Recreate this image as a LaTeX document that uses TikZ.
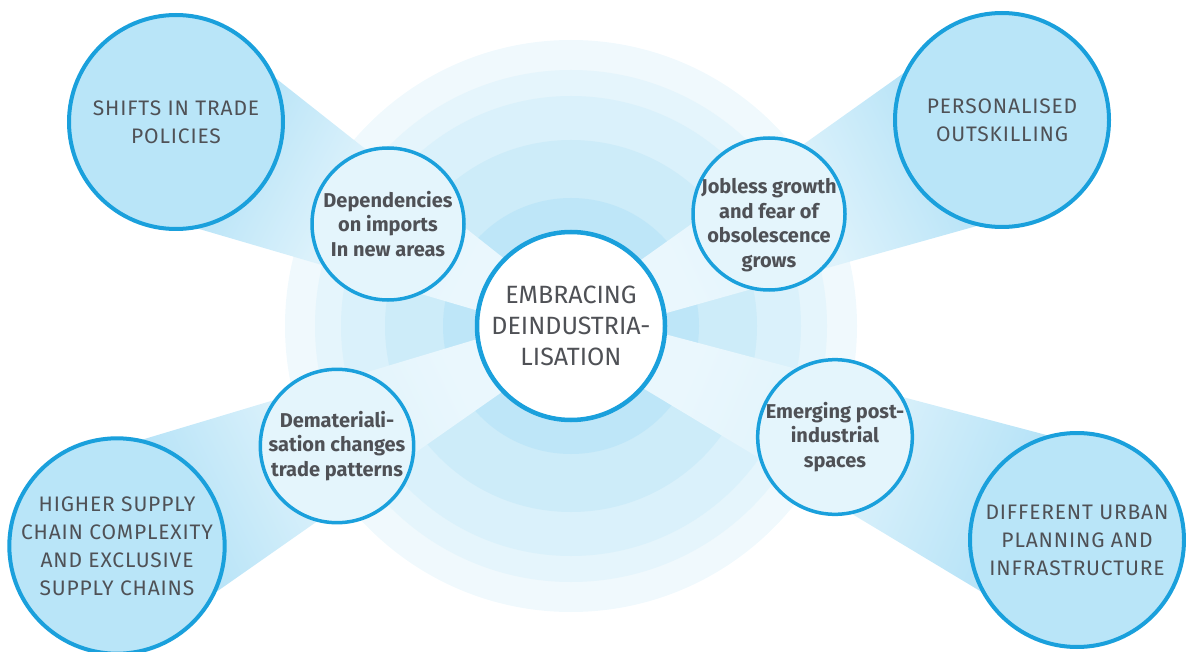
\documentclass[tikz,border=0pt]{standalone}
\usepackage{fontspec}
\setmainfont{Fira Sans}
\usetikzlibrary{calc,backgrounds}

\definecolor{rim}{HTML}{1AA0DC}
\definecolor{outerfill}{HTML}{B9E5F8}
\definecolor{midfill}{HTML}{E4F5FC}
\definecolor{ink}{HTML}{4F5156}
\definecolor{ringA}{HTML}{F0F9FD}
\definecolor{ringB}{HTML}{E5F5FC}
\definecolor{ringC}{HTML}{DAF1FB}
\definecolor{ringD}{HTML}{CDECF9}
\definecolor{ringE}{HTML}{BEE6F8}
\definecolor{beamdark}{HTML}{B4E2F7}
\definecolor{beammid}{HTML}{DDF2FB}
\definecolor{beamlight}{HTML}{EAF7FD}

\tikzset{
  hub/.style={circle, draw=rim, line width=4.5pt, fill=white, minimum size=188pt,
    inner sep=0pt, align=center, text=ink, font=\fontsize{25}{31}\selectfont},
  effect/.style={circle, draw=rim, line width=3.5pt, fill=midfill, minimum size=152pt,
    inner sep=0pt, align=center, text=ink, font=\fontsize{20}{24.5}\selectfont\bfseries},
  effecttext/.style={align=center, text=ink, inner sep=0pt,
    font=\fontsize{20}{24.5}\selectfont\bfseries},
  outcome/.style={circle, draw=rim, line width=4pt, fill=outerfill, minimum size=214pt,
    inner sep=0pt, align=center, text=ink,
    font=\fontsize{21}{28}\selectfont\addfontfeatures{LetterSpace=4}},
  beam/.style={top color=beamdark, bottom color=beamlight, middle color=beammid,
    shading angle=#1},
}

% wedge from an outer circle towards the hub
\newcommand{\drawbeam}[2]{%
  \shade[beam=#2]
    ($(#1.center)!107pt!53:(hub.center)$) --
    ($(hub.center)!94pt!-18:(#1.center)$) --
    ($(hub.center)!94pt!18:(#1.center)$) --
    ($(#1.center)!107pt!-53:(hub.center)$) -- cycle;}

\begin{document}
\begin{tikzpicture}[x=1pt,y=-1pt]
\useasboundingbox (0,0) rectangle (1186,652);

% hub
\node[hub] (hub) at (571,326) {EMBRACING\\DEINDUSTRIA-\\LISATION};

% intermediate effects
\node[effect] (imports) at (388,224) {Dependencies\\on imports\\In new areas};
\node[effect] (jobless) at (769,214) {};
\node[effecttext] (joblesstext) at (769,225) {Jobless growth\\and fear of\\obsolescence\\grows};
\node[effect] (demat) at (337,446) {Demateriali-\\sation changes\\trade patterns};
\node[effect] (spaces) at (835,437) {Emerging post-\\industrial\\spaces};

% outcomes
\node[outcome] (trade) at (176,122) {SHIFTS IN TRADE\\POLICIES};
\node[outcome] (skills) at (1002,120) {PERSONALISED\\OUTSKILLING};
\node[outcome] (supply) at (117,546) {HIGHER SUPPLY\\CHAIN COMPLEXITY\\AND EXCLUSIVE\\SUPPLY CHAINS};
\node[outcome] (urban) at (1077,540) {DIFFERENT URBAN\\PLANNING AND\\INFRASTRUCTURE};

\begin{pgfonlayer}{background}
  % concentric halo around the hub
  \fill[ringA] (hub.center) circle[radius=286pt];
  \fill[ringB] (hub.center) circle[radius=256pt];
  \fill[ringC] (hub.center) circle[radius=230pt];
  \fill[ringD] (hub.center) circle[radius=186pt];
  \fill[ringE] (hub.center) circle[radius=128pt];
  % wedges
  \drawbeam{trade}{62.7}
  \drawbeam{skills}{-64.5}
  \drawbeam{supply}{115.9}
  \drawbeam{urban}{-112.9}
\end{pgfonlayer}
\end{tikzpicture}
\end{document}
